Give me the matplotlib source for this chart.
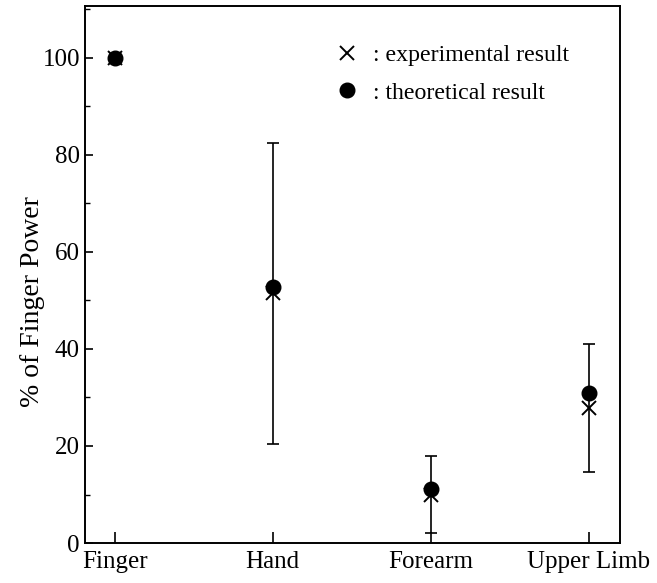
import numpy as np
import matplotlib
matplotlib.use("Agg")
import matplotlib.pyplot as plt
from matplotlib.ticker import MultipleLocator

plt.rcParams['font.family'] = ['Liberation Serif', 'DejaVu Serif']

# data
segments = ['Finger', 'Hand', 'Forearm', 'Upper Limb']
experimental = [100, 51.5, 10.0, 27.8]
exp_error = [0, 31.0, 7.9, 13.2]
theoretical = [100, 52.8, 11.1, 30.9]

x = np.arange(len(segments))

fig = plt.figure(figsize=(6.57, 5.83), dpi=100)
ax = fig.add_axes([0.129, 0.0686, 0.815, 0.921])

ax.errorbar(x, experimental, yerr=exp_error, fmt='none', ecolor='black',
            elinewidth=1.2, capsize=4.5, capthick=1.2, zorder=2)
ax.plot(x, theoretical, 'o', color='black', markersize=10.5, zorder=3,
        label=': theoretical result')
ax.plot(x, experimental, 'x', color='black', markersize=10, markeredgewidth=1.4,
        zorder=4, label=': experimental result')

ax.set_xlim(-0.19, 3.2)
ax.set_ylim(0, 110.7)
ax.set_xticks(x)
ax.set_xticklabels(segments)
ax.yaxis.set_major_locator(MultipleLocator(20))
ax.yaxis.set_minor_locator(MultipleLocator(10))
ax.set_ylabel('% of Finger Power', fontsize=20)
ax.yaxis.set_label_coords(-0.075, 0.45)

ax.tick_params(axis='both', which='major', direction='in', labelsize=18,
               width=1.2, top=False, right=False)
ax.tick_params(axis='y', which='major', length=6)
ax.tick_params(axis='x', which='major', length=8, pad=6)
ax.tick_params(axis='y', which='minor', direction='in', length=3.5, width=1.0)
for s in ax.spines.values():
    s.set_linewidth(1.4)

handles, labels = ax.get_legend_handles_labels()
ax.legend(handles[::-1], labels[::-1], loc='upper left',
          bbox_to_anchor=(0.449, 0.946), frameon=False, fontsize=17.2,
          handlelength=1.0, handletextpad=0.6, labelspacing=0.66,
          borderaxespad=0)

fig.savefig('out.png', dpi=100)
